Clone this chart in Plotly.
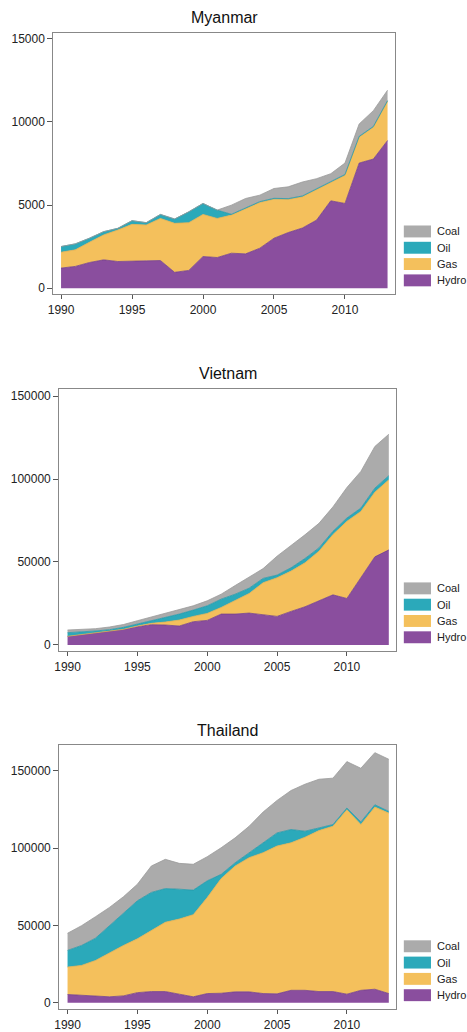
import plotly.graph_objects as go

years = list(range(1990, 2014))

# Myanmar (GWh)
mm_hydro = [1215, 1315, 1550, 1710, 1610, 1610, 1650, 1670, 960, 1075, 1910, 1850,
            2110, 2070, 2410, 3010, 3350, 3625, 4100, 5260, 5100, 7530, 7770, 8885]
mm_gas = [955, 995, 1220, 1500, 1895, 2235, 2155, 2530, 2945, 2870, 2530, 2350,
          2290, 2730, 2750, 2350, 1990, 1875, 1835, 1135, 1690, 1555, 1910, 2350]
mm_oil = [340, 360, 240, 195, 100, 220, 140, 240, 260, 655, 660, 500,
          50, 50, 50, 50, 50, 50, 50, 50, 50, 50, 50, 50]
mm_coal = [0, 0, 0, 0, 0, 0, 0, 0, 0, 0, 0, 0,
           550, 550, 390, 590, 710, 840, 605, 445, 690, 745, 950, 625]

# Vietnam (GWh)
vn_hydro = [5200, 6200, 7000, 8000, 9400, 11000, 12200, 12000, 11400, 14000, 14800, 18600,
            18600, 19200, 18000, 17200, 20200, 23000, 26600, 30200, 28000, 40500, 53100, 57300]
vn_gas = [0, 0, 0, 0, 0, 400, 800, 1800, 3600, 3200, 4200, 4000,
          8000, 11800, 19500, 23300, 24300, 26500, 29900, 36300, 46500, 40000, 39000, 42200]
vn_oil = [2200, 1600, 1400, 1200, 1200, 1200, 1600, 2400, 3600, 3800, 4600, 5000,
          4000, 3200, 2600, 1600, 2000, 2600, 2000, 2000, 2000, 2000, 2400, 2500]
vn_coal = [1600, 1600, 1400, 1600, 1700, 2000, 2300, 2900, 3000, 2600, 3000, 3000,
           5200, 6600, 5900, 11400, 13300, 14300, 14800, 14700, 18400, 22100, 25100, 25000]

# Thailand (GWh)
th_hydro = [5400, 4900, 4500, 3900, 4500, 6600, 7300, 7300, 5600, 3900, 6000, 6200,
            7100, 7100, 6000, 5800, 8100, 8100, 7300, 7300, 5600, 8100, 8800, 6000]
th_gas = [17700, 19300, 22900, 28500, 32600, 34800, 39400, 44800, 48600, 53100, 62100, 74200,
          81400, 86800, 91100, 95600, 95400, 99000, 104100, 106900, 119300, 107200, 117800, 116700]
th_oil = [10800, 12900, 14400, 17500, 20300, 24600, 24700, 21800, 19300, 15900, 10800, 2700,
          2100, 3200, 6400, 8500, 8600, 3900, 1700, 1100, 1100, 1700, 1500, 1100]
th_coal = [11100, 12800, 13900, 11800, 11200, 10700, 17100, 18900, 16700, 16700, 15600, 17200,
           16100, 17100, 19900, 21000, 25200, 30400, 31500, 30000, 30000, 34700, 33700, 33700]

countries = ["Myanmar", "Vietnam", "Thailand"]
sources = ["Hydro", "Gas", "Oil", "Coal"]
legend_order = ["Coal", "Oil", "Gas", "Hydro"]
data = {
    "Myanmar": {"Hydro": mm_hydro, "Gas": mm_gas, "Oil": mm_oil, "Coal": mm_coal},
    "Vietnam": {"Hydro": vn_hydro, "Gas": vn_gas, "Oil": vn_oil, "Coal": vn_coal},
    "Thailand": {"Hydro": th_hydro, "Gas": th_gas, "Oil": th_oil, "Coal": th_coal},
}
y_ticks = {"Myanmar": [0, 5000, 10000, 15000],
           "Vietnam": [0, 50000, 100000, 150000],
           "Thailand": [0, 50000, 100000, 150000]}
x_ticks = [1990, 1995, 2000, 2005, 2010]

fill_colors = {"Coal": "#ABABAB", "Oil": "#2BA9BA", "Gas": "#F4C05C", "Hydro": "#8A4E9E"}
line_colors = {"Coal": "#9A9A9A", "Oil": "#2698A8", "Gas": "#E8B04C", "Hydro": "#74408A"}

W, H = 467, 1032
# pixel layout of each panel: (left, right, top, bottom), y range, x range
panels = {
    "Myanmar": dict(box=(48, 394, 32, 295), yr=[-360, 15360], xr=[1989.46, 2013.52], title_y=17),
    "Vietnam": dict(box=(54, 395, 390, 654), yr=[-3775, 154430], xr=[1989.41, 2013.51], title_y=375),
    "Thailand": dict(box=(54, 395, 748, 1014), yr=[-4050, 166970], xr=[1989.41, 2013.51], title_y=734),
}

fig = go.Figure()
shapes = []
annotations = []
font_family = "Liberation Sans, Arial, sans-serif"

for i, c in enumerate(countries):
    sfx = "" if i == 0 else str(i + 1)
    p = panels[c]
    l, r, t, b = p["box"]
    for s in sources:
        fig.add_trace(go.Scatter(
            x=years, y=data[c][s], name=s, mode="lines",
            stackgroup="g" + str(i), fillcolor=fill_colors[s],
            line=dict(color=line_colors[s], width=0.8),
            xaxis="x" + sfx, yaxis="y" + sfx, showlegend=False,
            hoverinfo="x+y+name",
        ))
    xdom = [l / W, r / W]
    ydom = [1 - b / H, 1 - t / H]
    fig.layout["xaxis" + sfx] = dict(
        domain=xdom, range=p["xr"], anchor="y" + sfx,
        tickvals=x_ticks, ticks="outside", ticklen=4, tickwidth=1, tickcolor="#555",
        showline=True, mirror=True, linecolor="#888", linewidth=1.2,
        showgrid=False, zeroline=False,
        tickfont=dict(size=12, color="#222", family=font_family),
    )
    fig.layout["yaxis" + sfx] = dict(
        domain=ydom, range=p["yr"], anchor="x" + sfx,
        tickvals=y_ticks[c], tickformat="d", ticks="outside", ticklen=5, tickwidth=1,
        tickcolor="#555", showline=True, mirror=True, linecolor="#888", linewidth=1.2,
        showgrid=False, zeroline=False,
        tickfont=dict(size=12, color="#222", family=font_family),
    )
    # title
    annotations.append(dict(
        text=c, x=(l + r) / 2 / W, y=1 - p["title_y"] / H, xref="paper", yref="paper",
        xanchor="center", yanchor="middle", showarrow=False,
        font=dict(size=16, color="#111", family=font_family),
    ))
    # legend (manual)
    hydro_center = b - 14
    for k, s in enumerate(legend_order):
        cy = hydro_center - (3 - k) * 16.4
        shapes.append(dict(
            type="rect", xref="paper", yref="paper",
            x0=403 / W, x1=430.5 / W, y0=1 - (cy + 6) / H, y1=1 - (cy - 6) / H,
            fillcolor=fill_colors[s], line=dict(width=0), layer="above",
        ))
        annotations.append(dict(
            text=s, x=434.5 / W, y=1 - cy / H, xref="paper", yref="paper",
            xanchor="left", yanchor="middle", showarrow=False,
            font=dict(size=11, color="#222", family=font_family),
        ))

fig.update_layout(
    width=W, height=H, margin=dict(l=0, r=0, t=0, b=0),
    paper_bgcolor="white", plot_bgcolor="white",
    shapes=shapes, annotations=annotations, showlegend=False,
    font=dict(family=font_family),
)

fig.write_html("out.html")
